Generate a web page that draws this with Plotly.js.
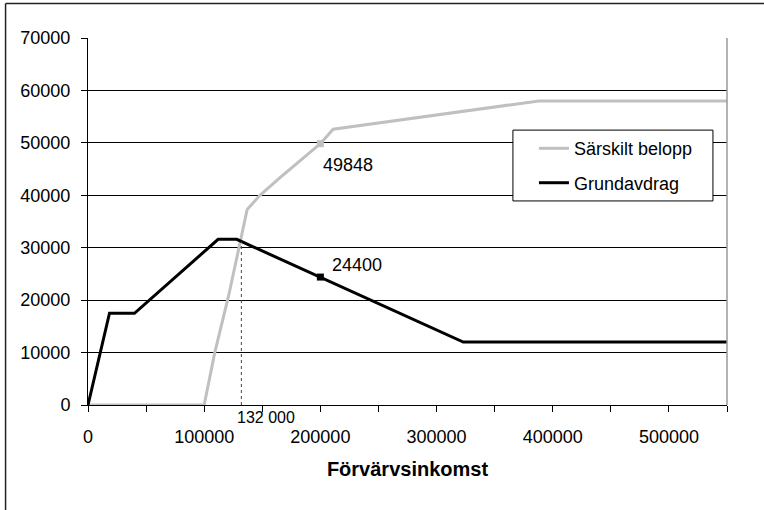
<!DOCTYPE html>
<html>
<head>
<meta charset="utf-8">
<script src="https://cdn.plot.ly/plotly-3.0.1.min.js"></script>
<style>html,body{margin:0;padding:0;background:#fff;}</style>
</head>
<body>
<div id="chart" style="width:764px;height:510px;"></div>
<script>
// Data
const sarskiltX = [0, 100000, 109000, 121000, 137000, 148000, 165000, 200000, 211000, 388000, 550000];
const sarskiltY = [0, 0, 9900, 20800, 37300, 40000, 43300, 49848, 52600, 58000, 58000];
const grundX = [0, 18500, 40000, 112000, 128000, 200000, 323000, 550000];
const grundY = [0, 17500, 17500, 31600, 31600, 24400, 12000, 12000];
const markSarskiltX = [200000];
const markSarskiltY = [49848];
const markGrundX = [200000];
const markGrundY = [24400];
const refLineX = [132000, 132000];
const refLineY = [0, 31200];
const refLabel = "132 000";
const xTickVals = [0, 100000, 200000, 300000, 400000, 500000];
const xTickText = ["0", "100000", "200000", "300000", "400000", "500000"];
const yTickVals = [0, 10000, 20000, 30000, 40000, 50000, 60000, 70000];
const yTickText = ["0", "10000", "20000", "30000", "40000", "50000", "60000", "70000"];
const seriesNames = ["Särskilt belopp", "Grundavdrag"];
const xTitle = "Förvärvsinkomst";

const FONT = "Liberation Sans, Arial, sans-serif";

const traces = [
  {x: sarskiltX, y: sarskiltY, type: 'scatter', mode: 'lines', name: seriesNames[0],
   line: {color: '#c0c0c0', width: 3}, legendgroup: 'a'},
  {x: grundX, y: grundY, type: 'scatter', mode: 'lines', name: seriesNames[1],
   line: {color: '#000000', width: 3}, legendgroup: 'b'},
  {x: refLineX, y: refLineY, type: 'scatter', mode: 'lines', showlegend: false,
   line: {color: '#444', width: 1, dash: 'dot'}, hoverinfo: 'skip'},
  {x: markSarskiltX, y: markSarskiltY, type: 'scatter', mode: 'markers', showlegend: false,
   marker: {symbol: 'square', size: 7, color: '#c0c0c0'}},
  {x: markGrundX, y: markGrundY, type: 'scatter', mode: 'markers', showlegend: false,
   marker: {symbol: 'square', size: 7, color: '#000'}}
];

const layout = {
  width: 764, height: 510,
  margin: {l: 88, r: 37, t: 38, b: 105, pad: 0},
  paper_bgcolor: '#fff', plot_bgcolor: '#fff',
  font: {family: FONT, size: 18, color: '#000'},
  showlegend: true,
  legend: {
    x: 0.665, y: 0.749, xanchor: 'left', yanchor: 'top',
    bgcolor: 'rgba(0,0,0,0)', borderwidth: 0,
    font: {family: FONT, size: 18, color: '#000'},
    traceorder: 'grouped', tracegroupgap: 8,
    indentation: 21
  },
  xaxis: {
    range: [0, 550000], tickmode: 'array', tickvals: xTickVals, ticktext: xTickText,
    ticks: 'outside', ticklen: 6, tickcolor: '#000', tickwidth: 1,
    minor: {dtick: 50000, tick0: 0, ticks: 'outside', ticklen: 6, tickcolor: '#000', showgrid: false},
    showgrid: false, zeroline: false, showline: true, linecolor: '#000', linewidth: 1,
    tickfont: {family: FONT, size: 18, color: '#000'},
    ticklabelstandoff: 9,
    title: {text: xTitle, font: {family: FONT, size: 20, color: '#000', weight: 'bold'}, standoff: 16},
    fixedrange: true
  },
  yaxis: {
    range: [0, 70000], tickmode: 'array', tickvals: yTickVals, ticktext: yTickText,
    ticks: 'outside', ticklen: 6, tickcolor: '#000', tickwidth: 1,
    showgrid: true, gridcolor: '#000', gridwidth: 1,
    zeroline: false, showline: true, linecolor: '#000', linewidth: 1,
    tickfont: {family: FONT, size: 18, color: '#000'},
    ticklabelstandoff: 7,
    fixedrange: true
  },
  shapes: [
    {type: 'line', xref: 'paper', yref: 'paper', x0: 1, x1: 1, y0: 0, y1: 1,
     line: {color: '#999', width: 1.5}},
    {type: 'line', xref: 'paper', yref: 'paper', x0: -0.129, x1: -0.129, y0: -0.3, y1: 1.094,
     line: {color: '#222', width: 1.5}},
    {type: 'line', xref: 'paper', yref: 'paper', x0: -0.129, x1: 1.1, y0: 1.094, y1: 1.094,
     line: {color: '#222', width: 1.5}},
    // legend frame
    {type: 'rect', xref: 'paper', yref: 'paper', x0: 0.665, x1: 0.978, y0: 0.556, y1: 0.749,
     fillcolor: '#fff', line: {color: '#000', width: 1}, layer: 'above'}
  ],
  annotations: [
    {x: markSarskiltX[0], y: markSarskiltY[0], text: String(markSarskiltY[0]), showarrow: false,
     xanchor: 'left', yanchor: 'middle', xshift: 1, yshift: -21,
     font: {family: FONT, size: 18, color: '#000'}},
    {x: markGrundX[0], y: markGrundY[0], text: String(markGrundY[0]), showarrow: false,
     xanchor: 'left', yanchor: 'middle', xshift: 10, yshift: 12,
     font: {family: FONT, size: 18, color: '#000'}},
    {x: refLineX[0], xref: 'x', y: -0.033, yref: 'paper', text: refLabel, showarrow: false,
     xanchor: 'left', yanchor: 'middle', xshift: -6,
     font: {family: FONT, size: 16, color: '#000'}}
  ]
};

Plotly.newPlot('chart', traces, layout, {staticPlot: true, displayModeBar: false});
</script>
</body>
</html>
